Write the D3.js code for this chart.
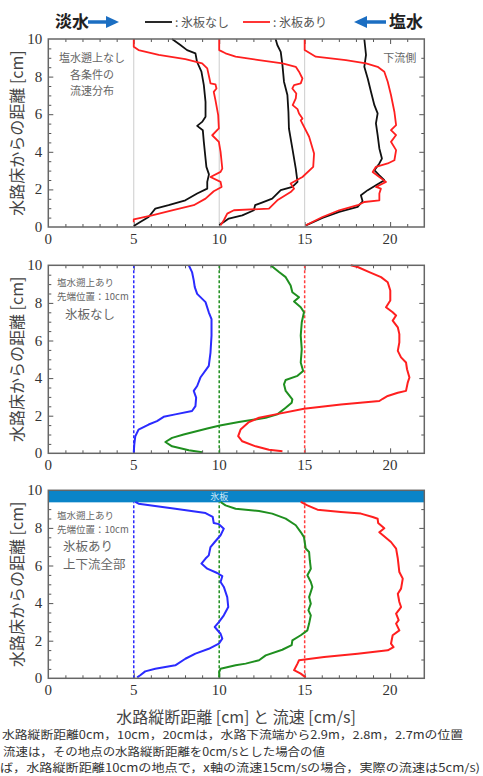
<!DOCTYPE html>
<html>
<head>
<meta charset="utf-8">
<script src="https://cdn.jsdelivr.net/npm/d3@7"></script>
<style>
  body { margin: 0; background: #fff; }
  svg { display: block; }
  .tick-label { font-family: "Liberation Serif", "DejaVu Serif", serif; font-size: 15px; fill: #333; }
  .cjk { font-family: "Noto Sans CJK JP", sans-serif; }
</style>
</head>
<body>
<div id="chart"></div>
<script>
/* Velocity profiles.  Each point is [x, height]:
   x is the plotted value (station offset + velocity), height in cm. */

// Panel 1: no salt wedge, black = no ice plate, red = ice plate
let p1_none_0 = [[5.0,0.05],[5.38,0.27],[5.87,0.53],[6.26,0.98],[7.04,1.16],[8.02,1.42],[8.71,1.78],[9.3,2.04],[9.3,2.4],[9.4,2.8],[9.25,3.2],[9.2,3.64],[9.1,4.53],[9.04,5.15],[8.71,5.38],[9.0,5.59],[9.2,5.86],[9.2,6.66],[9.1,7.55],[8.96,8.26],[8.7,8.79],[8.61,9.24],[8.12,9.41],[7.73,9.68],[7.24,10]];
let p1_none_1 = [[10.0,0.1],[10.27,0.27],[10.56,0.45],[11.35,0.62],[12.03,0.89],[12.1,1.16],[12.5,1.3],[13.1,1.51],[13.6,1.96],[14.28,2.13],[14.58,2.4],[14.48,3.11],[14.28,4.18],[14.08,5.24],[14.05,6.13],[13.99,7.02],[13.79,7.73],[13.7,8.61],[13.6,9.32],[13.4,9.68],[13.3,10]];
let p1_none_2 = [[15.07,0.09],[16.04,0.48],[17.02,0.8],[18.1,1.07],[18.39,1.37],[18.29,1.69],[18.69,1.96],[19.17,2.22],[19.66,2.49],[19.37,2.75],[19.08,3.02],[19.37,3.38],[19.52,3.64],[19.37,4.18],[19.27,4.89],[19.17,5.51],[19.27,6.04],[19.08,6.48],[18.88,7.19],[18.69,7.9],[18.49,8.52],[18.59,9.15],[18.49,10]];
let p1_ice_0 = [[5.0,0.25],[5.0,0.41],[6.07,0.62],[7.24,0.89],[8.51,1.16],[9.2,1.51],[9.68,1.9],[10.14,2.13],[10.08,2.4],[9.49,2.66],[10.08,2.93],[10.18,3.11],[10.08,4.0],[9.98,4.53],[9.59,4.88],[9.98,5.24],[9.94,5.95],[9.78,6.75],[9.68,7.19],[9.84,7.37],[9.78,7.59],[9.49,7.64],[9.43,7.9],[9.3,8.44],[9.0,8.7],[8.02,8.93],[6.46,9.15],[5.28,9.41],[5.0,9.59],[5.0,10]];
let p1_ice_1 = [[10.08,0.09],[10.27,0.36],[10.47,0.71],[10.86,0.89],[12.91,0.98],[13.4,1.42],[14.18,1.86],[14.38,2.04],[14.18,2.31],[14.87,2.66],[15.5,3.2],[15.55,3.91],[15.26,4.8],[14.77,5.67],[14.87,5.77],[14.67,6.04],[14.58,6.27],[14.3,6.48],[14.48,6.84],[14.51,7.1],[14.28,7.37],[14.38,7.55],[14.77,7.64],[14.87,7.9],[14.67,8.26],[14.48,8.52],[13.7,8.7],[12.33,8.88],[10.96,9.06],[10.37,9.24],[10.0,9.41],[10.0,10]];
let p1_ice_2 = [[15.07,0.09],[16.04,0.53],[17.02,0.89],[18.1,1.16],[18.49,1.33],[19.37,1.42],[19.37,1.78],[19.46,2.04],[19.17,2.13],[19.76,2.4],[19.37,2.66],[18.98,2.93],[19.17,3.2],[19.86,3.38],[20.25,3.55],[20.35,4.09],[20.05,4.53],[20.35,4.89],[20.05,5.15],[20.35,5.42],[20.25,6.13],[20.05,7.02],[19.86,7.73],[19.66,8.26],[19.27,8.52],[18.59,8.7],[17.41,8.88],[15.65,9.06],[15.0,9.41],[15.0,10]];

// Panel 2: salt wedge, tip at 10 cm, no ice plate
let p2_blue = [[5.0,0.05],[5.03,0.46],[5.09,0.91],[5.28,1.26],[5.87,1.53],[6.36,1.71],[6.75,1.94],[7.43,2.07],[8.41,2.25],[8.61,2.51],[8.65,2.96],[8.51,3.32],[8.71,3.58],[8.9,4.03],[9.39,4.65],[9.49,5.36],[9.55,6.26],[9.55,7.14],[9.39,7.5],[9.2,8.04],[8.71,8.48],[8.57,8.84],[8.51,9.2],[8.41,9.64],[8.22,10]];
let p2_green = [[9.0,0.05],[8.22,0.16],[7.24,0.37],[6.85,0.6],[7.24,0.82],[7.92,1.0],[9.3,1.32],[10.04,1.48],[11.15,1.66],[12.72,1.89],[13.4,2.07],[13.89,2.42],[14.24,2.69],[14.28,2.87],[13.89,3.32],[13.79,3.67],[13.89,3.9],[14.58,4.12],[14.91,4.38],[14.77,4.83],[14.83,5.54],[14.77,6.26],[14.83,6.97],[14.96,7.5],[14.77,7.77],[14.38,8.07],[14.67,8.3],[14.28,8.57],[14.18,8.93],[13.89,9.37],[13.5,9.64],[13.01,10]];
let p2_red = [[13.7,0.11],[12.91,0.19],[12.13,0.37],[11.35,0.64],[11.11,0.91],[11.25,1.26],[11.74,1.66],[12.33,1.89],[13.3,2.07],[14.96,2.37],[17.12,2.6],[19.37,2.78],[19.57,2.9],[19.86,3.05],[20.45,3.22],[20.93,3.32],[21.03,3.76],[21.13,4.03],[20.99,4.47],[20.93,4.83],[20.64,5.1],[20.45,5.45],[20.54,5.9],[20.54,6.34],[20.45,6.7],[20.15,7.06],[20.35,7.33],[20.15,7.5],[19.76,7.77],[20.01,8.13],[20.01,8.66],[19.86,9.1],[19.47,9.37],[18.78,9.64],[18.1,9.91],[17.7,10]];

// Panel 3: salt wedge, tip at 10 cm, ice plate over the whole reach
let p3_blue = [[5.2,0.05],[5.38,0.16],[5.67,0.37],[6.26,0.51],[7.43,0.69],[8.02,1.04],[8.61,1.31],[9.39,1.57],[9.98,1.84],[10.18,2.11],[10.08,2.37],[9.74,2.73],[9.98,2.99],[10.27,3.35],[10.53,3.79],[10.47,4.32],[10.27,4.86],[10.08,5.12],[10.18,5.43],[9.88,5.6],[9.3,5.83],[8.96,6.1],[9.2,6.37],[9.39,6.54],[9.49,6.98],[9.74,7.25],[10.08,7.61],[10.27,7.96],[9.98,8.2],[9.68,8.26],[9.62,8.58],[9.2,8.79],[7.43,9.02],[5.28,9.29],[5.09,9.38]];
let p3_green = [[10.0,0.05],[10.0,0.33],[10.08,0.51],[10.96,0.69],[11.55,0.78],[12.33,0.96],[12.72,1.22],[13.69,1.52],[14.24,1.76],[14.28,2.02],[14.77,2.29],[15.16,2.55],[15.26,2.91],[15.36,3.35],[15.22,3.62],[15.36,3.97],[15.26,4.32],[15.45,4.86],[15.36,5.12],[15.16,5.48],[15.36,5.83],[15.3,6.28],[15.26,6.72],[15.06,6.9],[14.96,7.51],[14.77,7.78],[14.48,8.14],[13.89,8.49],[13.1,8.76],[12.33,8.9],[10.96,9.02],[10.37,9.2],[10.08,9.38]];
let p3_red = [[15.06,0.05],[14.77,0.25],[14.38,0.43],[14.58,0.78],[14.67,0.96],[16.14,1.13],[18.1,1.31],[19.86,1.49],[20.2,1.66],[20.05,1.84],[20.15,2.29],[20.54,2.55],[20.35,2.91],[20.5,3.09],[20.35,3.44],[20.64,3.79],[20.54,4.06],[20.45,4.5],[20.64,4.77],[20.74,5.3],[20.54,5.65],[20.45,6.37],[20.35,6.9],[20.05,7.25],[19.37,7.77],[19.66,7.98],[19.3,8.26],[19.27,8.49],[18.98,8.58],[18.29,8.76],[17.12,8.85],[15.75,8.97],[15.16,9.2],[14.77,9.38]];

let stations = [5, 10, 15];
let xTickLabels = [0, 5, 10, 15, 20];
let yTickLabels = [0, 2, 4, 6, 8, 10];
let icePlate = [9.36, 10];

let W = 483, H = 776;
let margin = {left: 48.3, right: 424.3};
let panelTops = [39, 265.3, 490.3];
let panelH = 188;

let colors = {black: "#111", red: "#ff1f1f", blue: "#2b2bff", green: "#1f8f1f"};

let svg = d3.select("#chart").append("svg")
    .attr("width", W)
    .attr("height", H);

let xscale = d3.scaleLinear().domain([0, 22]).range([margin.left, margin.right]);

/* Draw one panel: inward ticks on all sides, tick labels, y title. */
function drawPanel(top) {
    let yscale = d3.scaleLinear().domain([0, 10]).range([top + panelH, top]);
    let g = svg.append("g");
    let xminor = d3.range(1, 22, 1).filter(d => d % 5 != 0);

    g.append("g").attr("transform", "translate(0," + (top + panelH) + ")")
        .call(d3.axisTop(xscale).tickValues(xminor).tickSize(3).tickFormat(""));
    g.append("g").attr("transform", "translate(0," + (top + panelH) + ")")
        .call(d3.axisTop(xscale).tickValues([5, 10, 15, 20]).tickSize(5).tickFormat(""));
    g.append("g").attr("transform", "translate(0," + top + ")")
        .call(d3.axisBottom(xscale).tickValues(xminor).tickSize(3).tickFormat(""));
    g.append("g").attr("transform", "translate(0," + top + ")")
        .call(d3.axisBottom(xscale).tickValues([5, 10, 15, 20]).tickSize(5).tickFormat(""));
    g.append("g").attr("transform", "translate(" + margin.left + ",0)")
        .call(d3.axisRight(yscale).tickValues(d3.range(0.5, 10, 0.5).filter(d => d % 2 != 0)).tickSize(3).tickFormat(""));
    g.append("g").attr("transform", "translate(" + margin.left + ",0)")
        .call(d3.axisRight(yscale).tickValues([2, 4, 6, 8]).tickSize(5).tickFormat(""));
    g.append("g").attr("transform", "translate(" + margin.right + ",0)")
        .call(d3.axisLeft(yscale).tickValues([1, 3, 5, 7, 9]).tickSize(3).tickFormat(""));
    g.append("g").attr("transform", "translate(" + margin.right + ",0)")
        .call(d3.axisLeft(yscale).tickValues([2, 4, 6, 8]).tickSize(5).tickFormat(""));
    g.selectAll(".domain").remove();
    g.selectAll(".tick line").attr("stroke", "#555").attr("stroke-width", 1);

    g.selectAll("text.xl").data(xTickLabels).enter().append("text")
        .attr("class", "tick-label")
        .attr("x", d => xscale(d))
        .attr("y", top + panelH + 17)
        .attr("text-anchor", "middle")
        .text(d => d);
    g.selectAll("text.yl").data(yTickLabels).enter().append("text")
        .attr("class", "tick-label")
        .attr("x", margin.left - 6)
        .attr("y", d => yscale(d) + 5)
        .attr("text-anchor", "end")
        .text(d => d);

    svg.append("text")
        .attr("class", "cjk")
        .attr("transform", "translate(23," + (top + panelH / 2) + ") rotate(-90)")
        .attr("text-anchor", "middle")
        .attr("font-size", 16)
        .attr("fill", "#444")
        .text("水路床からの距離 [cm]");
    return {g: g, yscale: yscale, top: top};
}

function frame(p) {
    p.g.append("rect")
        .attr("x", margin.left).attr("y", p.top)
        .attr("width", margin.right - margin.left).attr("height", panelH)
        .attr("fill", "none").attr("stroke", "#666").attr("stroke-width", 1.5);
}

function profile(p, data, color, width) {
    let line = d3.line().x(d => xscale(d[0])).y(d => p.yscale(d[1]));
    p.g.append("path")
        .attr("d", line(data))
        .attr("fill", "none")
        .attr("stroke", color)
        .attr("stroke-width", width)
        .attr("stroke-linejoin", "round");
}

function stationLines(p, cols, dashed, ytop) {
    p.g.selectAll(null).data(stations).enter().append("line")
        .attr("x1", d => xscale(d)).attr("x2", d => xscale(d))
        .attr("y1", p.yscale(0)).attr("y2", p.yscale(ytop))
        .attr("stroke", (d, i) => cols[i])
        .attr("stroke-width", dashed ? 1.5 : 1)
        .attr("stroke-dasharray", dashed ? "3,2" : null);
}

function notes(p, lines, x, y0, dy, size) {
    p.g.selectAll(null).data(lines).enter().append("text")
        .attr("class", "cjk")
        .attr("x", x)
        .attr("y", (d, i) => y0 + i * dy)
        .attr("text-anchor", d => d.anchor || "start")
        .attr("font-size", size)
        .attr("fill", "#666")
        .text(d => d.t);
}

/* Panel 1 */
let p1 = drawPanel(panelTops[0]);
stationLines(p1, ["#ccc", "#ccc", "#ccc"], false, 10);
[p1_none_0, p1_none_1, p1_none_2].forEach(d => profile(p1, d, colors.black, 1.8));
[p1_ice_0, p1_ice_1, p1_ice_2].forEach(d => profile(p1, d, colors.red, 1.8));
frame(p1);
notes(p1, [{t: "塩水遡上なし", anchor: "middle"}, {t: "各条件の", anchor: "middle"}, {t: "流速分布", anchor: "middle"}],
      92, p1.top + 23, 16.5, 11);
notes(p1, [{t: "下流側", anchor: "end"}], margin.right - 8, p1.top + 23, 16, 11);

/* Panel 2 */
let p2 = drawPanel(panelTops[1]);
stationLines(p2, [colors.blue, colors.green, "#ff4040"], true, 10);
profile(p2, p2_blue, colors.blue, 2);
profile(p2, p2_green, colors.green, 2);
profile(p2, p2_red, colors.red, 2);
frame(p2);
notes(p2, [{t: "塩水遡上あり"}, {t: "先端位置：10cm"}], 57, p2.top + 21, 14, 9.5);
notes(p2, [{t: "氷板なし"}], 65, p2.top + 54, 16, 12.5);

/* Panel 3 */
let p3 = drawPanel(panelTops[2]);
p3.g.append("rect")
    .attr("x", margin.left).attr("y", p3.yscale(icePlate[1]))
    .attr("width", margin.right - margin.left)
    .attr("height", p3.yscale(icePlate[0]) - p3.yscale(icePlate[1]))
    .attr("fill", "#0a84c8");
p3.g.append("text")
    .attr("class", "cjk")
    .attr("x", xscale(10)).attr("y", p3.yscale(icePlate[0]) - 2.5)
    .attr("text-anchor", "middle").attr("font-size", 9).attr("fill", "#cfe6f5")
    .text("氷板");
stationLines(p3, [colors.blue, colors.green, "#ff4040"], true, icePlate[0]);
profile(p3, p3_blue, colors.blue, 2);
profile(p3, p3_green, colors.green, 2);
profile(p3, p3_red, colors.red, 2);
frame(p3);
notes(p3, [{t: "塩水遡上あり"}, {t: "先端位置：10cm"}], 57, p3.top + 29, 14, 9.5);
notes(p3, [{t: "氷板あり"}, {t: "上下流全部"}], 63, p3.top + 61, 17.5, 12.5);

/* X axis title */
svg.append("text")
    .attr("class", "cjk")
    .attr("x", 236).attr("y", 723)
    .attr("text-anchor", "middle").attr("font-size", 16).attr("fill", "#444")
    .text("水路縦断距離 [cm] と 流速 [cm/s]");

/* Footnotes */
let footnotes = [
    {t: "水路縦断距離0cm，10cm，20cmは，水路下流端から2.9m，2.8m，2.7mの位置", x: 2, y: 739, len: 461},
    {t: "流速は，その地点の水路縦断距離を0cm/sとした場合の値", x: 3, y: 755.5, len: 322},
    {t: "ば，水路縦断距離10cmの地点で，x軸の流速15cm/sの場合，実際の流速は5cm/s)", x: 0, y: 772, len: 480}
];
svg.selectAll(null).data(footnotes).enter().append("text")
    .attr("class", "cjk")
    .attr("x", d => d.x).attr("y", d => d.y)
    .attr("font-size", 11.3).attr("fill", "#333")
    .attr("textLength", d => d.len).attr("lengthAdjust", "spacingAndGlyphs")
    .text(d => d.t);

/* Header: arrows and legend */
let head = svg.append("g");
head.append("text").attr("class", "cjk").attr("x", 55).attr("y", 28)
    .attr("font-size", 17).attr("font-weight", "bold").attr("fill", "#222").text("淡水");
head.append("line").attr("x1", 88).attr("x2", 108).attr("y1", 22).attr("y2", 22)
    .attr("stroke", "#1b6ec2").attr("stroke-width", 3.5);
head.append("path").attr("d", "M106,16 L119,22 L106,28 Z").attr("fill", "#1b6ec2");
head.append("line").attr("x1", 365).attr("x2", 386).attr("y1", 22).attr("y2", 22)
    .attr("stroke", "#1b6ec2").attr("stroke-width", 3.5);
head.append("path").attr("d", "M367,16 L354,22 L367,28 Z").attr("fill", "#1b6ec2");
head.append("text").attr("class", "cjk").attr("x", 389).attr("y", 28)
    .attr("font-size", 17).attr("font-weight", "bold").attr("fill", "#222").text("塩水");

let legend = [{label: ": 氷板なし", color: colors.black, x: 145}, {label: ": 氷板あり", color: colors.red, x: 243}];
legend.forEach(l => {
    head.append("line").attr("x1", l.x).attr("x2", l.x + 27).attr("y1", 22).attr("y2", 22)
        .attr("stroke", l.color).attr("stroke-width", 1.8);
    head.append("text").attr("class", "cjk").attr("x", l.x + 30).attr("y", 26.5)
        .attr("font-size", 12).attr("fill", "#555").text(l.label);
});
</script>
</body>
</html>
